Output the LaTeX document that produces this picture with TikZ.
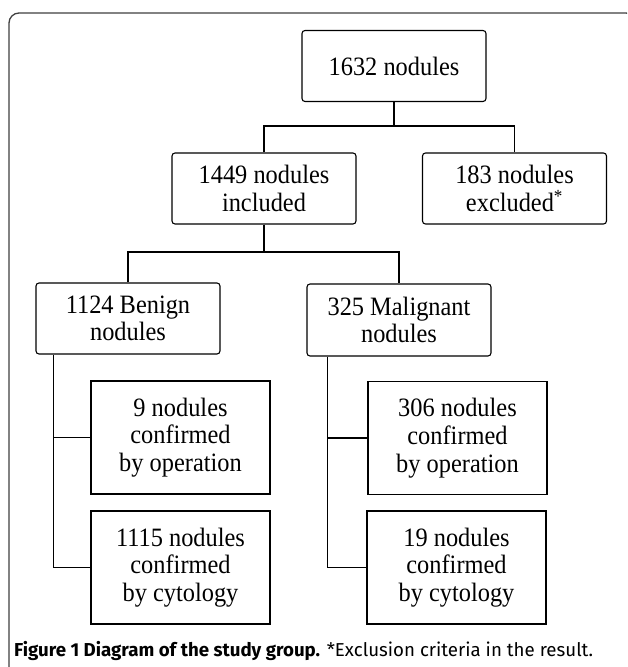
\documentclass[tikz,border=0pt]{standalone}
\usepackage{fontspec}
\setmainfont{Liberation Serif}[FakeStretch=0.92]
\newfontfamily\capfont{Fira Sans}
\newcommand{\boxfont}{\fontsize{26.5}{27.7}\selectfont}
\begin{document}
\begin{tikzpicture}[x=1pt,y=-1pt,
  rbox/.style={draw, rounded corners=3pt, line width=1.1pt, minimum width=184pt, minimum height=71pt, align=center, font=\boxfont, inner sep=0pt},
  sbox/.style={draw, line width=1.1pt, minimum width=179pt, minimum height=113pt, align=center, font=\boxfont, inner sep=0pt},
  link/.style={line width=1.1pt}]
\useasboundingbox (0,0) rectangle (627,667);
\clip (0,0) rectangle (627,667);
\fill[white] (0,0) rectangle (627,667);
\draw[rounded corners=10pt, line width=1.3pt, black!75] (9,720) -- (9,13) -- (636,13) -- (636,720);
\node[rbox] (n1632) at (394,66) {1632 nodules};
\node[rbox] (n1449) at (264,188.5) {1449 nodules\\included};
\node[rbox] (n183) at (514.5,188.5) {183 nodules\\excluded\textsuperscript{*}};
\node[rbox] (n1124) at (128,318.5) {1124 Benign\\nodules};
\node[rbox, minimum height=72pt] (n325) at (399,320) {325 Malignant\\nodules};
\node[sbox] (n9) at (180.5,437.5) {9 nodules\\confirmed\\by operation};
\node[sbox] (n1115) at (180.5,567.5) {1115 nodules\\confirmed\\by cytology};
\node[sbox] (n306) at (457.5,438) {306 nodules\\confirmed\\by operation};
\node[sbox] (n19) at (456.5,567.5) {19 nodules\\confirmed\\by cytology};
\coordinate (j1) at (394,126);
\coordinate (j2) at (264,252);
\draw[link] (n1632.south) -- (j1);
\draw[link] (n1449.north) |- (j1) -| (n183.north);
\draw[link] (n1449.south) -- (j2);
\draw[link] (n1124.north) |- (j2) -| (n325.north);
\coordinate (t1) at ([xshift=18pt]n1124.south west);
\coordinate (t2) at ([xshift=21pt]n325.south west);
\draw[link] (t1) |- (n1115.west);
\draw[link] (n9.west) -- (n9.west -| t1);
\draw[link] (t2) |- (n19.west);
\draw[link] (n306.west) -- (n306.west -| t2);
\node[anchor=base west, inner sep=0pt, font=\capfont\fontsize{18.7}{21}\selectfont] (cap) at (14,656) {{\bfseries Figure 1 Diagram of the study group.} *Exclusion criteria in the result.};
\end{tikzpicture}
\end{document}
